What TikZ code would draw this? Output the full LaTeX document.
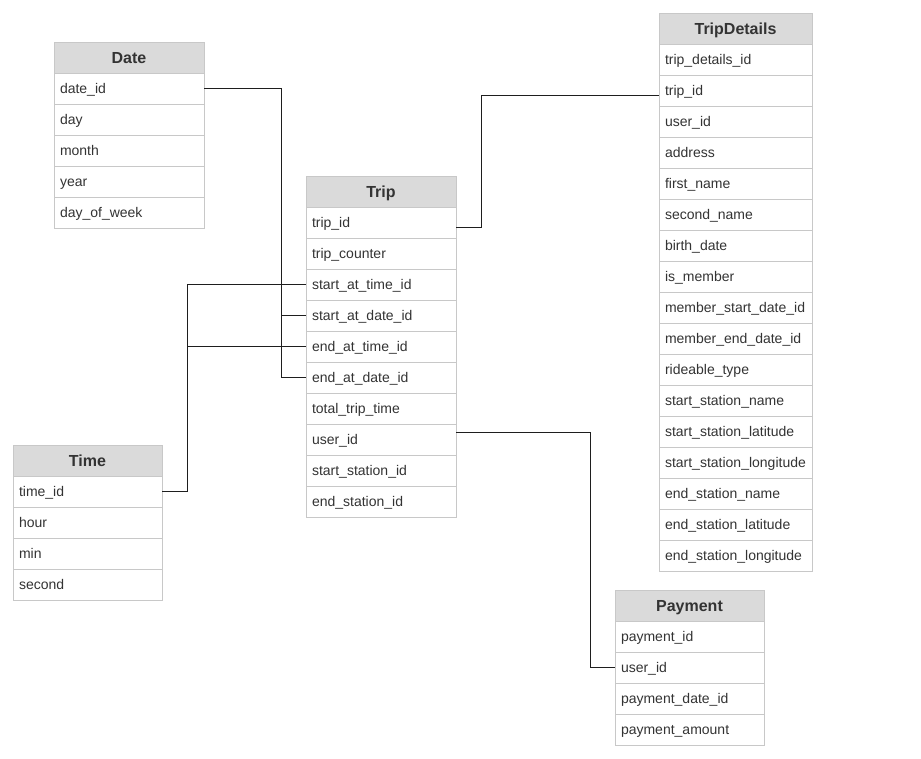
\documentclass[tikz,border=0pt]{standalone}
\usepackage{fontspec}
\setmainfont{Liberation Sans}
\usetikzlibrary{positioning}
\definecolor{tableline}{RGB}{200,200,200}
\definecolor{headfill}{RGB}{218,218,218}
\definecolor{textgray}{RGB}{51,51,51}
\definecolor{linkgray}{RGB}{30,30,30}
\tikzset{
  tablehead/.style={draw=tableline, line width=0.75pt, fill=headfill, text=textgray,
    font=\fontsize{12}{14}\selectfont\bfseries, text width=#1, align=center,
    text height=8.6pt, text depth=0pt,
    minimum height=23.25pt, inner xsep=4.5pt, inner ysep=0pt, outer sep=0pt, anchor=north west},
  tablehead/.default=103.5pt,
  tablerow/.style={draw=tableline, line width=0.75pt, fill=white, text=textgray,
    font=\fontsize{10.5}{12}\selectfont, text width=#1, align=left,
    text height=7.5pt, text depth=0pt,
    minimum height=23.25pt, inner xsep=4.5pt, inner ysep=0pt, outer sep=0pt},
  tablerow/.default=103.5pt,
  link/.style={draw=linkgray, line width=0.75pt}
}
\begin{document}
\begin{tikzpicture}[x=0.75pt,y=-0.75pt]
\useasboundingbox (0,0) rectangle (921,758);
% Date
\node[tablehead] (date) at (54,42) {Date};
\node[tablerow, below=0pt of date] (date-1) {date\_id};
\node[tablerow, below=0pt of date-1] (date-2) {day};
\node[tablerow, below=0pt of date-2] (date-3) {month};
\node[tablerow, below=0pt of date-3] (date-4) {year};
\node[tablerow, below=0pt of date-4] (date-5) {day\_of\_week};
% Trip
\node[tablehead] (trip) at (306,176) {Trip};
\node[tablerow, below=0pt of trip] (trip-1) {trip\_id};
\node[tablerow, below=0pt of trip-1] (trip-2) {trip\_counter};
\node[tablerow, below=0pt of trip-2] (trip-3) {start\_at\_time\_id};
\node[tablerow, below=0pt of trip-3] (trip-4) {start\_at\_date\_id};
\node[tablerow, below=0pt of trip-4] (trip-5) {end\_at\_time\_id};
\node[tablerow, below=0pt of trip-5] (trip-6) {end\_at\_date\_id};
\node[tablerow, below=0pt of trip-6] (trip-7) {total\_trip\_time};
\node[tablerow, below=0pt of trip-7] (trip-8) {user\_id};
\node[tablerow, below=0pt of trip-8] (trip-9) {start\_station\_id};
\node[tablerow, below=0pt of trip-9] (trip-10) {end\_station\_id};
% TripDetails
\node[tablehead=105.75pt] (details) at (659,13) {TripDetails};
\node[tablerow=105.75pt, below=0pt of details] (details-1) {trip\_details\_id};
\node[tablerow=105.75pt, below=0pt of details-1] (details-2) {trip\_id};
\node[tablerow=105.75pt, below=0pt of details-2] (details-3) {user\_id};
\node[tablerow=105.75pt, below=0pt of details-3] (details-4) {address};
\node[tablerow=105.75pt, below=0pt of details-4] (details-5) {first\_name};
\node[tablerow=105.75pt, below=0pt of details-5] (details-6) {second\_name};
\node[tablerow=105.75pt, below=0pt of details-6] (details-7) {birth\_date};
\node[tablerow=105.75pt, below=0pt of details-7] (details-8) {is\_member};
\node[tablerow=105.75pt, below=0pt of details-8] (details-9) {member\_start\_date\_id};
\node[tablerow=105.75pt, below=0pt of details-9] (details-10) {member\_end\_date\_id};
\node[tablerow=105.75pt, below=0pt of details-10] (details-11) {rideable\_type};
\node[tablerow=105.75pt, below=0pt of details-11] (details-12) {start\_station\_name};
\node[tablerow=105.75pt, below=0pt of details-12] (details-13) {start\_station\_latitude};
\node[tablerow=105.75pt, below=0pt of details-13] (details-14) {start\_station\_longitude};
\node[tablerow=105.75pt, below=0pt of details-14] (details-15) {end\_station\_name};
\node[tablerow=105.75pt, below=0pt of details-15] (details-16) {end\_station\_latitude};
\node[tablerow=105.75pt, below=0pt of details-16] (details-17) {end\_station\_longitude};
% Time
\node[tablehead=102.75pt] (time) at (13,445) {Time};
\node[tablerow=102.75pt, below=0pt of time] (time-1) {time\_id};
\node[tablerow=102.75pt, below=0pt of time-1] (time-2) {hour};
\node[tablerow=102.75pt, below=0pt of time-2] (time-3) {min};
\node[tablerow=102.75pt, below=0pt of time-3] (time-4) {second};
% Payment
\node[tablehead=102.75pt] (pay) at (615,590) {Payment};
\node[tablerow=102.75pt, below=0pt of pay] (pay-1) {payment\_id};
\node[tablerow=102.75pt, below=0pt of pay-1] (pay-2) {user\_id};
\node[tablerow=102.75pt, below=0pt of pay-2] (pay-3) {payment\_date\_id};
\node[tablerow=102.75pt, below=0pt of pay-3] (pay-4) {payment\_amount};
% links
\coordinate (datejoint) at (281,0);
\coordinate (timejoint) at (187,0);
\coordinate (tripjoint) at (481,0);
\coordinate (userjoint) at (590,0);
\coordinate (tripstart) at ([yshift=-3.4pt]trip-1.east);
\coordinate (tripend) at ([yshift=-3.4pt]details-2.west);
\coordinate (userstart) at ([yshift=5.6pt]trip-8.east);
\draw[link] (date-1.east) -| (datejoint |- trip-6.west) -- (trip-6.west);
\draw[link] (datejoint |- trip-4.west) -- (trip-4.west);
\draw[link] (time-1.east) -| (timejoint |- trip-3.west) -- (trip-3.west);
\draw[link] (timejoint |- trip-5.west) -- (trip-5.west);
\draw[link] (tripstart) -| (tripjoint |- tripend) -- (tripend);
\draw[link] (userstart) -| (userjoint |- pay-2.west) -- (pay-2.west);
\end{tikzpicture}
\end{document}
